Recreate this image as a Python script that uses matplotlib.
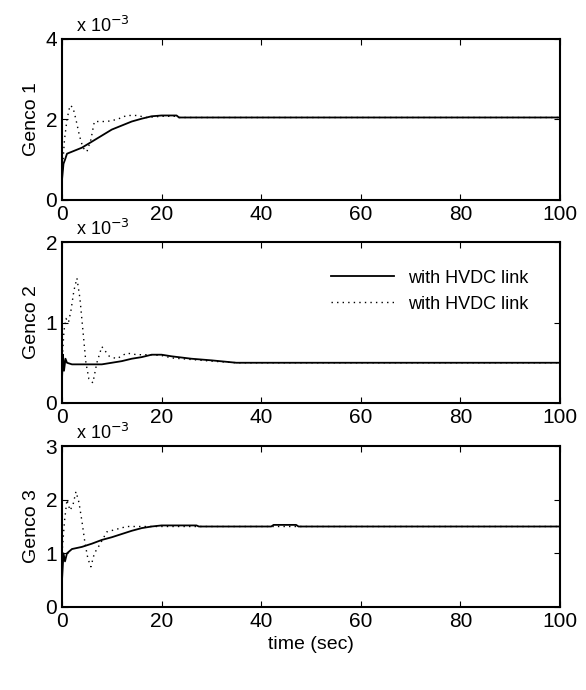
import matplotlib.pyplot as plt

plt.rcParams['font.family'] = ['Liberation Sans', 'DejaVu Sans']

# values in units of 1e-3
t1_solid = [0, 0.3, 0.6, 1.0, 2, 4, 6, 8, 10, 12, 14, 16, 18, 20, 23, 23.5, 100]
g1_solid = [0.5, 0.9, 1.0, 1.15, 1.2, 1.3, 1.45, 1.6, 1.75, 1.85, 1.95, 2.02, 2.08, 2.1, 2.1, 2.05, 2.05]
t1_dot = [0, 0.5, 1.0, 1.6, 2.2, 2.8, 3.5, 4.2, 5.0, 5.8, 6.5, 7.5, 9, 11, 13, 15, 17, 20, 23, 23.5, 100]
g1_dot = [0.6, 1.5, 2.0, 2.35, 2.3, 2.0, 1.6, 1.3, 1.2, 1.5, 1.95, 1.95, 1.95, 2.0, 2.1, 2.1, 2.05, 2.08, 2.08, 2.05, 2.05]

t2_solid = [0, 0.2, 0.4, 0.7, 1.0, 2, 4, 6, 8, 10, 12, 14, 16, 18, 20, 22, 26, 30, 35, 100]
g2_solid = [0.3, 0.6, 0.4, 0.55, 0.5, 0.48, 0.48, 0.48, 0.48, 0.5, 0.52, 0.55, 0.57, 0.6, 0.6, 0.58, 0.55, 0.53, 0.5, 0.5]
t2_dot = [0, 0.4, 0.8, 1.3, 1.8, 2.4, 3.0, 3.6, 4.2, 4.8, 5.4, 6.2, 7.0, 8.0, 9.5, 11, 13, 15, 18, 20, 22, 26, 30, 35, 100]
g2_dot = [0.5, 0.9, 1.05, 1.0, 1.15, 1.4, 1.55, 1.3, 0.9, 0.5, 0.3, 0.25, 0.5, 0.7, 0.58, 0.55, 0.62, 0.6, 0.6, 0.59, 0.56, 0.54, 0.52, 0.5, 0.5]

t3_solid = [0, 0.3, 0.6, 1.0, 2, 4, 6, 8, 10, 12, 14, 16, 18, 20, 27, 27.5, 42, 42.5, 47, 47.5, 100]
g3_solid = [0.5, 1.0, 0.85, 1.0, 1.08, 1.12, 1.18, 1.25, 1.3, 1.36, 1.42, 1.47, 1.5, 1.52, 1.52, 1.5, 1.5, 1.53, 1.53, 1.5, 1.5]
t3_dot = [0, 0.5, 1.0, 1.6, 2.2, 2.8, 3.4, 4.0, 4.6, 5.2, 5.8, 6.5, 7.5, 9, 11, 13, 15, 18, 22, 100]
g3_dot = [1.0, 1.6, 2.0, 1.8, 1.9, 2.15, 1.95, 1.6, 1.2, 0.9, 0.75, 1.0, 1.15, 1.4, 1.45, 1.5, 1.5, 1.5, 1.5, 1.5]

names = ["Genco 1", "Genco 2", "Genco 3"]
ylims = [4, 2, 3]
yticks = [[0, 2, 4], [0, 1, 2], [0, 1, 2, 3]]
series = [(t1_solid, g1_solid, t1_dot, g1_dot),
          (t2_solid, g2_solid, t2_dot, g2_dot),
          (t3_solid, g3_solid, t3_dot, g3_dot)]

fig = plt.figure(figsize=(5.86, 6.9), dpi=100)
bottoms = [490, 287, 83]
for i in range(3):
    ax = fig.add_axes([62 / 586, bottoms[i] / 690, 498 / 586, 161 / 690])
    ts, ys, td, yd = series[i]
    ax.plot(ts, ys, color='black', linewidth=1.3, label='with HVDC link')
    ax.plot(td, yd, color='black', linewidth=1.0, linestyle=(0, (1, 3)), label='with HVDC link')
    ax.set_xlim(0, 100)
    ax.set_ylim(0, ylims[i])
    ax.set_yticks(yticks[i])
    ax.set_xticks([0, 20, 40, 60, 80, 100])
    ax.tick_params(direction='in', labelsize=15, length=4, top=True, right=True)
    ax.set_ylabel(names[i], fontsize=14)
    for s in ax.spines.values():
        s.set_linewidth(1.5)
    ax.text(0.028, 1.02, "x 10$^{-3}$", transform=ax.transAxes, fontsize=13, ha='left', va='bottom')
    if i == 1:
        ax.legend(loc='upper right', frameon=False, fontsize=13, handlelength=3.5,
                  bbox_to_anchor=(0.97, 0.93))
    if i == 2:
        ax.set_xlabel("time (sec)", fontsize=14)

fig.savefig("out.png", dpi=100)
